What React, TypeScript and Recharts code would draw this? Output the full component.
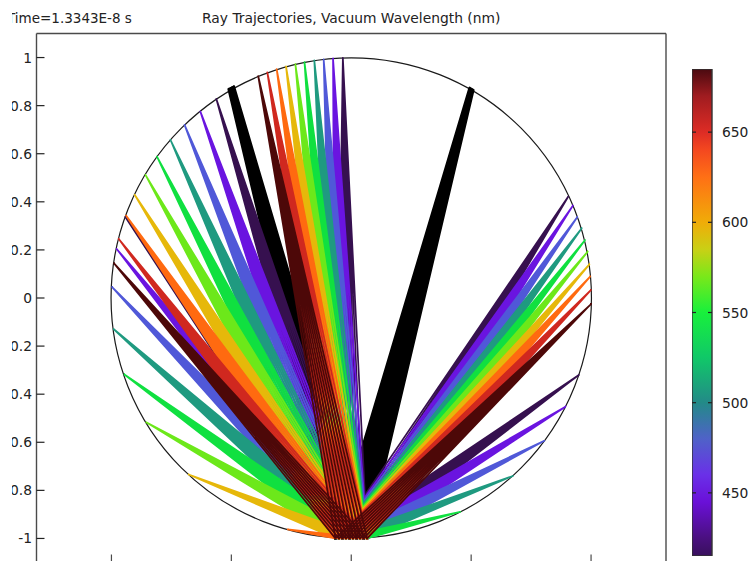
import { ScatterChart, Scatter, XAxis, YAxis, ReferenceDot, ComposedChart, Bar } from "recharts"

const FONT = "'DejaVu Sans', sans-serif"
const TEXT = "#222"
const FRAME = "#4a4a4a"

// wavelength order of the beams, shortest first
const wavelengths = [420, 450, 475, 500, 530, 565, 600, 625, 650, 680]
const beamColors = ["#36104f", "#6a14e0", "#5058d8", "#1f9a80", "#10e040", "#6ce81a", "#e6b80a", "#ff6a10", "#d0281f", "#4d0808"]

// ray start points along the grating, at y = -1
const gratingX = [-0.066, -0.0513, -0.0367, -0.022, -0.0073, 0.0073, 0.022, 0.0367, 0.0513, 0.066]

// where each beam hits the circle, one [x, y] per wavelength
const fanA = [[-0.035, 0.999], [-0.076, 0.997], [-0.115, 0.993], [-0.154, 0.988], [-0.195, 0.981], [-0.233, 0.973], [-0.272, 0.963], [-0.311, 0.952], [-0.35, 0.938], [-0.388, 0.923]]
const fanB = [[-0.5625, 0.828], [-0.629, 0.775], [-0.695, 0.72], [-0.754, 0.658], [-0.81, 0.588], [-0.858, 0.512], [-0.903, 0.429], [-0.939, 0.343], [-0.97, 0.246], [-0.989, 0.144]]
const fanC = [[-0.942, 0.337], [-0.978, 0.204], [-0.997, 0.045], [-0.99, -0.13], [-0.946, -0.318], [-0.855, -0.517], [-0.678, -0.734], [-0.265, -0.962]]
const fanD = [[0.905, 0.422], [0.924, 0.384], [0.942, 0.336], [0.961, 0.29], [0.975, 0.241], [0.986, 0.193], [0.993, 0.14], [0.996, 0.089], [0.999, 0.033], [1.0, -0.025]]
const fanE = [[0.949, -0.32], [0.893, -0.452], [0.805, -0.594], [0.674, -0.74], [0.455, -0.889]]
const fans = [fanA, fanB, fanC, fanD, fanE]

// the two black beams end in a short stretch of the circle
const blackLeft = [[-0.51, 0.868], [-0.503, 0.871], [-0.497, 0.875], [-0.49, 0.878]]
const blackRight = [[0.494, 0.872], [0.499, 0.869], [0.503, 0.867], [0.508, 0.864]]

const xTicks = [-1, -0.5, 0, 0.5, 1]
const yTicks = [1, 0.8, 0.6, 0.4, 0.2, 0, -0.2, -0.4, -0.6, -0.8, -1]
const xDomain = [-1.3125, 1.3125]
const yDomain = [-1.1, 1.1]

const barTicks = [450, 500, 550, 600, 650]
const barDomain = [415, 685]
const barStops = [
  [685, "#4a0a10"], [670, "#a01c20"], [650, "#dd2c25"], [640, "#f4481f"], [625, "#ff7015"], [600, "#f0ac08"],
  [585, "#c9d015"], [570, "#7ae81a"], [550, "#18f03c"], [525, "#10c868"], [500, "#238a88"], [480, "#4f62c8"],
  [460, "#6a30e8"], [445, "#6a10d8"], [425, "#4a1080"], [415, "#38105c"],
] as [number, string][]
const barData = [{ name: "wavelength", band: barDomain }]

// zig-zag through the grating points so one polyline draws all rays of a beam
function raysTo(ends: number[][]) {
  return ends.flatMap(([x, y]) => gratingX.flatMap((gx) => [{ x: gx, y: -1 }, { x, y }]))
}

const beams = [
  { key: "black-l", color: "#000", width: 3, points: raysTo(blackLeft) },
  { key: "black-r", color: "#000", width: 3, points: raysTo(blackRight) },
  ...wavelengths.flatMap((nm, i) =>
    fans
      .filter((fan) => fan[i])
      .map((fan, f) => ({ key: `${nm}-${f}`, color: beamColors[i], width: 1.7, points: raysTo([fan[i]]) }))
  ),
]

const noDot = () => <g />

function LeftTick({ x, y, payload }: any) {
  return (
    <g>
      <line x1={x} x2={x + 8} y1={y} y2={y} stroke="#222" strokeWidth={1.2} />
      <text x={x - 4.5} y={y + 5} textAnchor="end" fontSize={13.85} fontFamily={FONT} fill={TEXT}>{payload.value}</text>
    </g>
  )
}
function RightTick({ x, y }: any) {
  return <line x1={x - 8} x2={x} y1={y} y2={y} stroke={FRAME} strokeWidth={1.2} />
}
function TopTick({ x, y }: any) {
  return <line x1={x} x2={x} y1={y} y2={y + 8} stroke={FRAME} strokeWidth={1.2} />
}
function BottomTick({ x, y }: any) {
  return <line x1={x} x2={x} y1={y - 8} y2={y} stroke={FRAME} strokeWidth={1.2} />
}
function BarTick({ x, y, payload }: any) {
  return (
    <g>
      <line x1={x - 20} x2={x - 16} y1={y} y2={y} stroke="#222" strokeWidth={1.2} />
      <line x1={x - 4} x2={x} y1={y} y2={y} stroke="#222" strokeWidth={1.2} />
      <text x={x + 10} y={y + 5} fontSize={13.85} fontFamily={FONT} fill={TEXT}>{payload.value}</text>
    </g>
  )
}

const titleStyle = { position: "absolute", top: 10, fontFamily: FONT, fontSize: 13.85, color: TEXT, whiteSpace: "nowrap", lineHeight: "16px" } as const

export default function App() {
  const axisLine = { stroke: FRAME, strokeWidth: 1.4 }
  return (
    <div style={{ position: "absolute", left: 12, top: 0, width: 740, height: 561, overflow: "hidden", background: "#fff" }}>
      <div style={{ position: "absolute", left: -12, top: 0, width: 752, height: 600 }}>
        <div style={{ ...titleStyle, left: 7, fontSize: 13.5 }}>Time=1.3343E-8 s</div>
        <div style={{ ...titleStyle, left: 202 }}>Ray Trajectories, Vacuum Wavelength (nm)</div>
        <div style={{ position: "absolute", left: 0, top: 0 }}>
          <ScatterChart width={752} height={600} margin={{ top: 32.5, left: 35.5, right: 85, bottom: 36.5 }}>
            <XAxis dataKey="x" type="number" domain={xDomain} ticks={xTicks} interval={0} height={1} tickSize={0} tickMargin={0} tickLine={false} axisLine={axisLine} tick={<BottomTick />} />
            <XAxis xAxisId="top" orientation="top" dataKey="x" type="number" domain={xDomain} ticks={xTicks} interval={0} height={1} tickSize={0} tickMargin={0} tickLine={false} axisLine={axisLine} tick={<TopTick />} />
            <YAxis dataKey="y" type="number" domain={yDomain} ticks={yTicks} interval={0} width={1} tickSize={0} tickMargin={0} tickLine={false} axisLine={axisLine} tick={<LeftTick />} />
            <YAxis yAxisId="right" orientation="right" dataKey="y" type="number" domain={yDomain} ticks={yTicks} interval={0} width={1} tickSize={0} tickMargin={0} tickLine={false} axisLine={axisLine} tick={<RightTick />} />
            <ReferenceDot x={0} y={0} r={240.2} fill="none" stroke="#1a1a1a" strokeWidth={1.2} />
            {beams.map((b) => (
              <Scatter
                key={b.key}
                data={b.points}
                line={{ stroke: b.color, strokeWidth: b.width, strokeLinejoin: "round" }}
                lineType="joint"
                shape={noDot}
                isAnimationActive={false}
              />
            ))}
          </ScatterChart>
        </div>
        <div style={{ position: "absolute", left: 692, top: 69 }}>
          <ComposedChart width={60} height={487} data={barData} margin={{ top: 0, left: 0, right: 39, bottom: 0 }} barCategoryGap={0}>
            <defs>
              <linearGradient id="wavelengthRamp" x1="0" y1="0" x2="0" y2="1">
                {barStops.map(([nm, color]) => (
                  <stop key={nm} offset={(barDomain[1] - nm) / (barDomain[1] - barDomain[0])} stopColor={color} />
                ))}
              </linearGradient>
            </defs>
            <XAxis dataKey="name" hide />
            <YAxis orientation="right" type="number" domain={barDomain} ticks={barTicks} interval={0} width={1} tickSize={0} tickMargin={0} tickLine={false} axisLine={false} tick={<BarTick />} />
            <Bar dataKey="band" fill="url(#wavelengthRamp)" stroke="#333" strokeWidth={1.4} isAnimationActive={false} />
          </ComposedChart>
        </div>
      </div>
    </div>
  )
}
